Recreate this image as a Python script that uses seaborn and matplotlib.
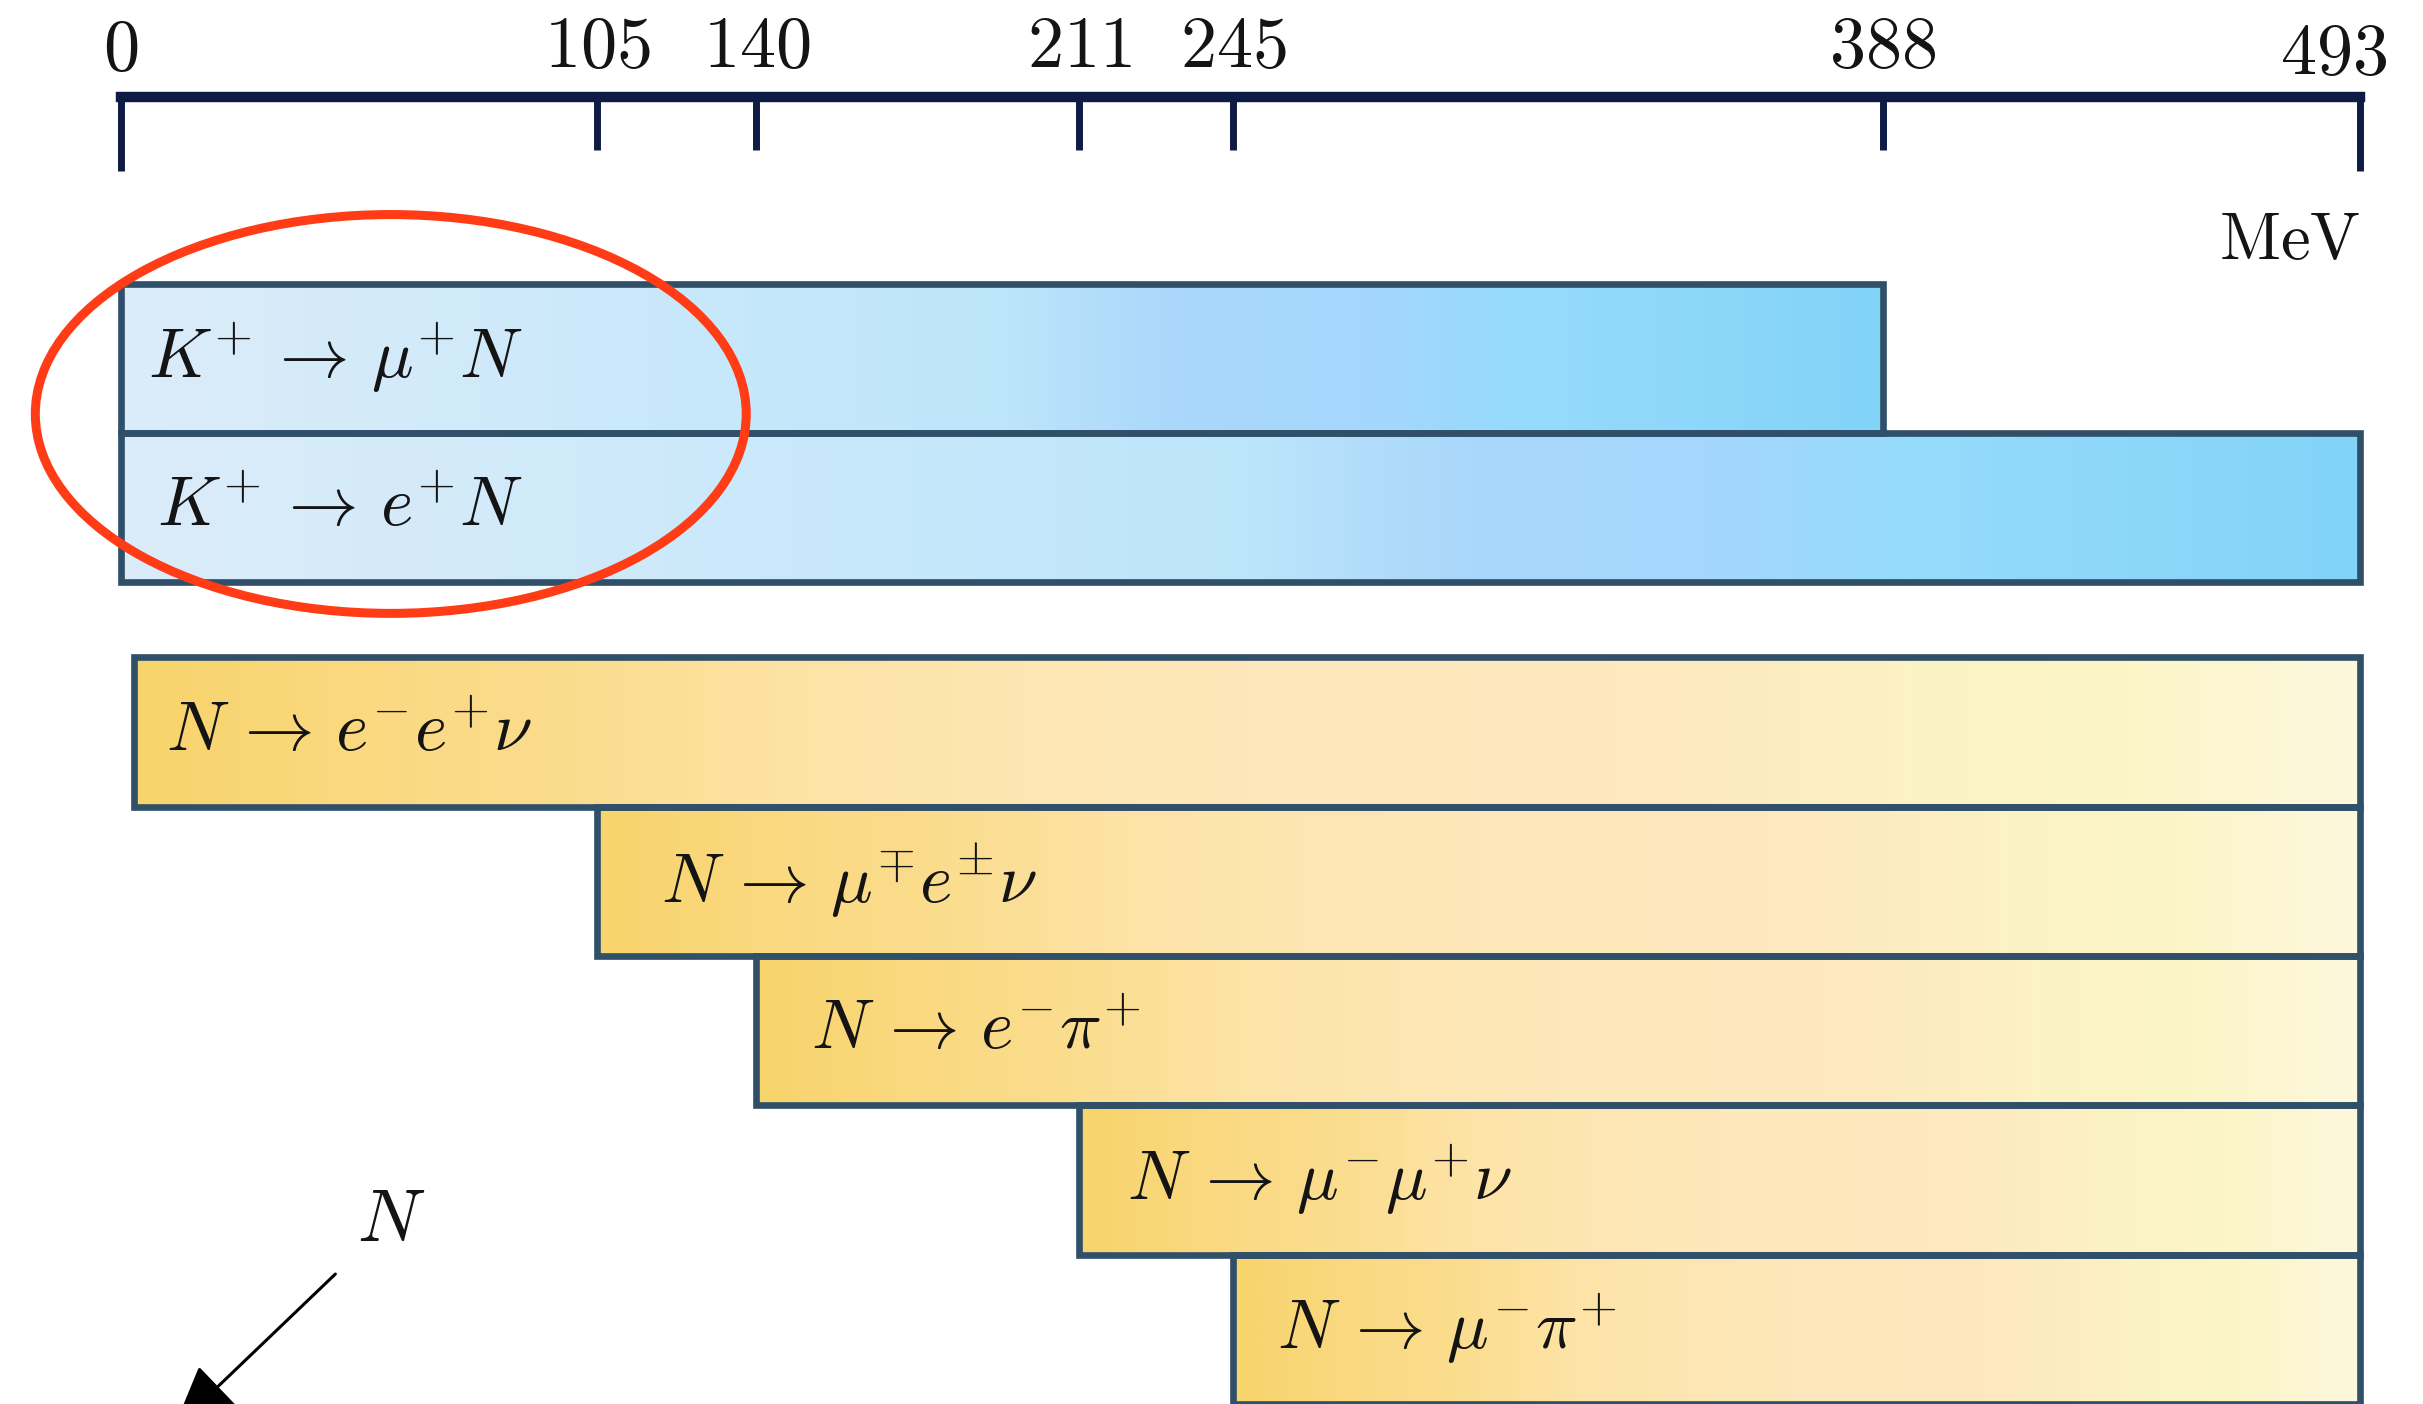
import numpy as np
import matplotlib
matplotlib.use("Agg")
import matplotlib.pyplot as plt
import matplotlib.transforms as mtransforms
from matplotlib.patches import Ellipse
import seaborn as sns

# Kaon production channels and heavy-neutral-lepton decay channels,
# each drawn over its kinematically open mass window (MeV).
channels = [
    r"$K^{+}\, \rightarrow\, \mu^{+} N$",
    r"$K^{+}\, \rightarrow\, e^{+} N$",
    r"$N\, \rightarrow\, e^{-} e^{+} \nu$",
    r"$N\, \rightarrow\, \mu^{\mp} e^{\pm} \nu$",
    r"$N\, \rightarrow\, e^{-} \pi^{+}$",
    r"$N\, \rightarrow\, \mu^{-} \mu^{+} \nu$",
    r"$N\, \rightarrow\, \mu^{-} \pi^{+}$",
]
mass_low = [0, 0, 3, 105, 140, 211, 245]
mass_high = [388, 493, 493, 493, 493, 493, 493]
kind = ["production", "production", "decay", "decay", "decay", "decay", "decay"]

# Thresholds marked on the mass scale
thresholds = [105, 140, 211, 245, 388]
scale_ends = [0, 493]

# Layout: row centres (production block, gap, decay block)
row_pos = [0, 1, 2.5, 3.5, 4.5, 5.5, 6.5]
label_pad = [6, 8, 7, 14, 12, 10.5, 9.5]

sns.set_theme(style="white")
plt.rcParams["mathtext.fontset"] = "cm"
plt.rcParams["font.family"] = ["DejaVu Serif"]

navy = "#0e1b44"
edge = "#30506a"
ink = "#141414"

gradients = {
    "production": sns.blend_palette(
        ["#dbecf9", "#d6ebf9", "#d0eafa", "#c9e9fa", "#c3e7fa", "#bde5fa",
         "#aad7fb", "#a6d6fb", "#95dbfc", "#8dd7fa", "#82d3f8"], as_cmap=True),
    "decay": sns.blend_palette(
        ["#f8d46c", "#fad981", "#fbdd8f", "#fde3a6", "#fde6b2", "#fde8bb",
         "#fde8bd", "#fde9c0", "#fcf2c4", "#fbf5c8", "#fdf8dc"], as_cmap=True),
}

fig = plt.figure(figsize=(24.23, 14.04), dpi=100)
fig.patch.set_facecolor("white")
ax = fig.add_axes([120.5 / 2423, 0.0, (2360 - 120.5) / 2423, 1 - 97 / 1404])
ax.set_facecolor("none")

ramp = np.linspace(0, 1, 256).reshape(1, -1)
for name, lo, hi, k, y, pad in zip(channels, mass_low, mass_high, kind, row_pos, label_pad):
    bar = ax.barh(y, hi - lo, left=lo, height=1.0, facecolor="none",
                  edgecolor=edge, linewidth=4.8, zorder=3, clip_on=False)[0]
    img = ax.imshow(ramp, cmap=gradients[k], aspect="auto",
                    extent=(lo, hi, y + 0.5, y - 0.5), interpolation="bilinear",
                    zorder=2, clip_on=True)
    img.set_clip_path(bar)
    ax.text(lo + pad, y, name, fontsize=50, color=ink, ha="left",
            va="center", zorder=4)

ax.set_xlim(0, 493)
ax.set_ylim(7.0, -1.75)

# Mass scale along the top spine
for side in ("left", "right", "bottom"):
    ax.spines[side].set_visible(False)
ax.spines["top"].set_linewidth(7.5)
ax.spines["top"].set_color(navy)
ax.spines["top"].set_capstyle("projecting")
ax.xaxis.tick_top()
ax.set_xticks(thresholds, labels=[f"${v}$" for v in thresholds])
ax.set_xticks(scale_ends, labels=[f"${v}$" for v in scale_ends], minor=True)
ax.tick_params(axis="x", which="major", direction="in", length=38, width=5,
               color=navy, pad=11, labelsize=52, labelcolor=ink,
               top=True, bottom=False)
ax.tick_params(axis="x", which="minor", direction="in", length=53, width=5,
               color=navy, pad=9, labelsize=52, labelcolor=ink,
               top=True, bottom=False)
ax.set_yticks([])
ax.grid(False)

# keep the last scale label inside the frame
last = ax.xaxis.get_minorticklabels()[-1]
last.set_transform(last.get_transform()
                   + mtransforms.ScaledTranslation(-26 / 100, -5 / 100, fig.dpi_scale_trans))

ax.text(493, -0.79, r"$\mathrm{MeV}$", fontsize=48, color=ink,
        ha="right", va="center")

# Highlight around the kaon production channels
ax.add_patch(Ellipse((59.5, 0.372), 156.5, 2.67, fill=False,
                     edgecolor="#ff3c16", linewidth=6.5, zorder=5, clip_on=False))

# Outgoing N line
ax.annotate("", xy=(11.6, 7.17), xytext=(47.3, 6.13),
            arrowprops=dict(arrowstyle="-|>,head_length=3.4,head_width=1.5",
                            color="black", lw=2.2, shrinkA=0, shrinkB=0),
            annotation_clip=False)
ax.text(59.6, 5.77, r"$N$", fontsize=54, color=ink, ha="center", va="center")

fig.savefig("out.png", dpi=100)
